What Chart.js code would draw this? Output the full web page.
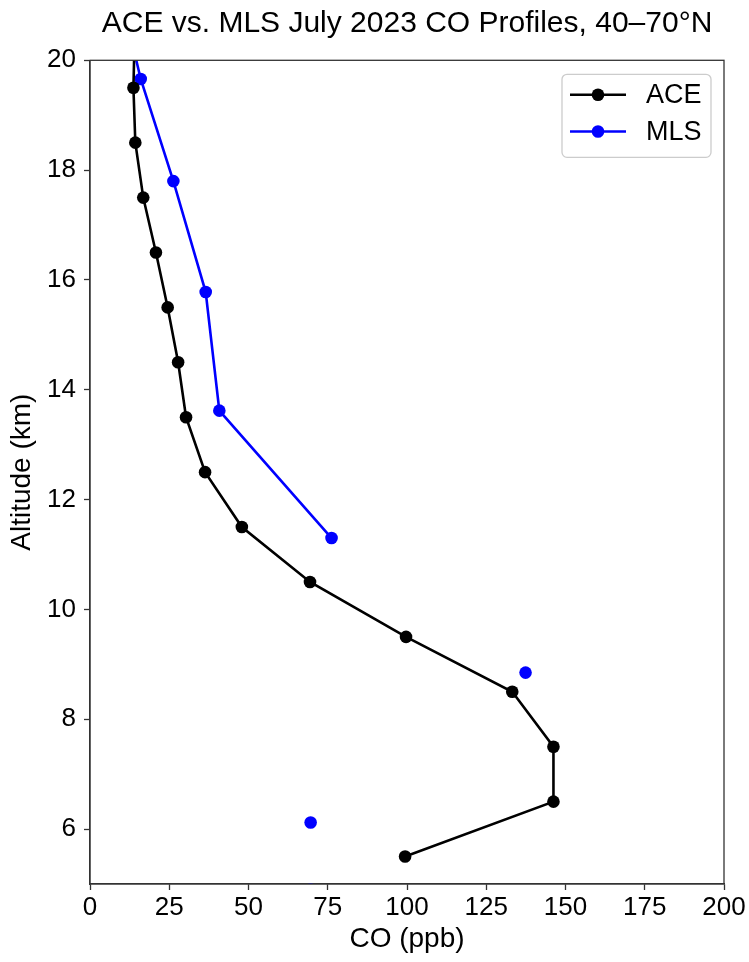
<!DOCTYPE html>
<html>
<head>
<meta charset="utf-8">
<script src="https://cdn.jsdelivr.net/npm/chart.js@4.4.0/dist/chart.umd.min.js"></script>
<style>
    html, body { margin: 0; padding: 0; background: #ffffff; }
    #wrap { width: 749px; height: 962px; }
</style>
</head>
<body>
<div id="wrap"><canvas id="coProfileChart" width="749" height="962"></canvas></div>
<script>
// ACE profile (altitude in km, CO in ppb)
const aceAltitude = [20.5, 19.5, 18.5, 17.5, 16.5, 15.5, 14.5, 13.5, 12.5, 11.5, 10.5, 9.5, 8.5, 7.5, 6.5, 5.5];
const aceCO       = [14.1, 13.7, 14.3, 16.8, 20.8, 24.5, 27.8, 30.3, 36.3, 47.9, 69.4, 99.7, 133.2, 146.2, 146.2, 99.4];

// MLS profile, null = gap in the line
const mlsAltitude = [21.6, 19.66, 17.8, 15.78, 13.62, 11.3, null, 8.85, null, 6.12, null, 4.9];
const mlsCO       = [8.0, 16.0, 26.3, 36.5, 40.8, 76.2, null, 137.4, null, 69.6, null, 69.6];

// Axis ticks
const xTicks = [0, 25, 50, 75, 100, 125, 150, 175, 200];
const yTicks = [6, 8, 10, 12, 14, 16, 18, 20];

const FONT = '"Liberation Sans", Arial, Helvetica, sans-serif';
const AXIS_COLOR = '#333333';

function toPoints(alt, co) {
    return alt.map((a, i) => ({ x: co[i], y: a }));
}

// Frame round the plot area (matplotlib style box)
const framePlugin = {
    id: 'frame',
    afterDatasetsDraw(chart) {
        const { ctx, chartArea } = chart;
        ctx.save();
        ctx.strokeStyle = AXIS_COLOR;
        ctx.lineWidth = 1.3;
        ctx.strokeRect(chartArea.left, chartArea.top, chartArea.right - chartArea.left, chartArea.bottom - chartArea.top);
        ctx.restore();
    }
};

// Legend inside the upper right corner, line + marker like matplotlib
const insideLegendPlugin = {
    id: 'insideLegend',
    afterDraw(chart) {
        const { ctx, chartArea } = chart;
        const x0 = chartArea.right - 162;
        const y0 = chartArea.top + 14;
        const w = 149, h = 83;
        ctx.save();
        ctx.beginPath();
        ctx.roundRect(x0, y0, w, h, 5);
        ctx.fillStyle = 'rgba(255,255,255,0.85)';
        ctx.fill();
        ctx.strokeStyle = '#cccccc';
        ctx.lineWidth = 1.3;
        ctx.stroke();

        chart.data.datasets.forEach((ds, i) => {
            const cy = y0 + 20.5 + i * 36.7;
            ctx.strokeStyle = ds.borderColor;
            ctx.lineWidth = ds.borderWidth;
            ctx.beginPath();
            ctx.moveTo(x0 + 8, cy);
            ctx.lineTo(x0 + 64, cy);
            ctx.stroke();
            ctx.fillStyle = ds.pointBackgroundColor;
            ctx.beginPath();
            ctx.arc(x0 + 36, cy, ds.pointRadius, 0, Math.PI * 2);
            ctx.fill();
            ctx.fillStyle = '#000000';
            ctx.font = '27px ' + FONT;
            ctx.textBaseline = 'middle';
            ctx.textAlign = 'left';
            ctx.fillText(ds.label, x0 + 84, cy + 1);
        });
        ctx.restore();
    }
};

function axisOptions(min, max, ticks, titleText, isX) {
    return {
        type: 'linear',
        min: min,
        max: max,
        afterBuildTicks: function(scale) {
            scale.ticks = ticks.map(v => ({ value: v }));
        },
        afterFit: function(scale) {
            if (isX) {
                scale.height = 78;
            } else {
                scale.width = 90;
            }
        },
        ticks: {
            color: '#000000',
            font: { family: FONT, size: 26 },
            padding: isX ? 2 : 8,
            maxRotation: 0,
            autoSkip: false
        },
        grid: {
            drawOnChartArea: false,
            drawTicks: true,
            tickLength: 6,
            tickColor: AXIS_COLOR,
            tickWidth: 1.3
        },
        border: {
            display: true,
            color: AXIS_COLOR,
            width: 1.3
        },
        title: {
            display: true,
            text: titleText,
            color: '#000000',
            font: { family: FONT, size: 28 },
            padding: isX ? { top: 0, bottom: 6 } : { top: 5, bottom: 0 }
        }
    };
}

document.addEventListener('DOMContentLoaded', function() {
    const ctx = document.getElementById('coProfileChart').getContext('2d');
    new Chart(ctx, {
        type: 'line',
        data: {
            datasets: [
                {
                    label: 'ACE',
                    data: toPoints(aceAltitude, aceCO),
                    borderColor: '#000000',
                    backgroundColor: '#000000',
                    pointBackgroundColor: '#000000',
                    borderWidth: 2.6,
                    pointRadius: 6.3,
                    pointBorderWidth: 0,
                    tension: 0,
                    clip: 0
                },
                {
                    label: 'MLS',
                    data: toPoints(mlsAltitude, mlsCO),
                    borderColor: '#0000ff',
                    backgroundColor: '#0000ff',
                    pointBackgroundColor: '#0000ff',
                    borderWidth: 2.6,
                    pointRadius: 6.3,
                    pointBorderWidth: 0,
                    tension: 0,
                    spanGaps: false,
                    clip: 0
                }
            ]
        },
        options: {
            responsive: false,
            animation: false,
            layout: {
                padding: { left: 0, right: 25, top: 0, bottom: 0 }
            },
            plugins: {
                legend: { display: false },
                tooltip: { enabled: false },
                title: {
                    display: true,
                    fullSize: false,
                    text: 'ACE vs. MLS July 2023 CO Profiles, 40–70°N',
                    color: '#000000',
                    font: { family: FONT, size: 30, weight: 'normal' },
                    padding: { top: 6, bottom: 18.3 }
                }
            },
            scales: {
                x: axisOptions(0, 200, xTicks, 'CO (ppb)', true),
                y: axisOptions(5, 20, yTicks, 'Altitude (km)', false)
            }
        },
        plugins: [framePlugin, insideLegendPlugin]
    });
});
</script>
</body>
</html>
